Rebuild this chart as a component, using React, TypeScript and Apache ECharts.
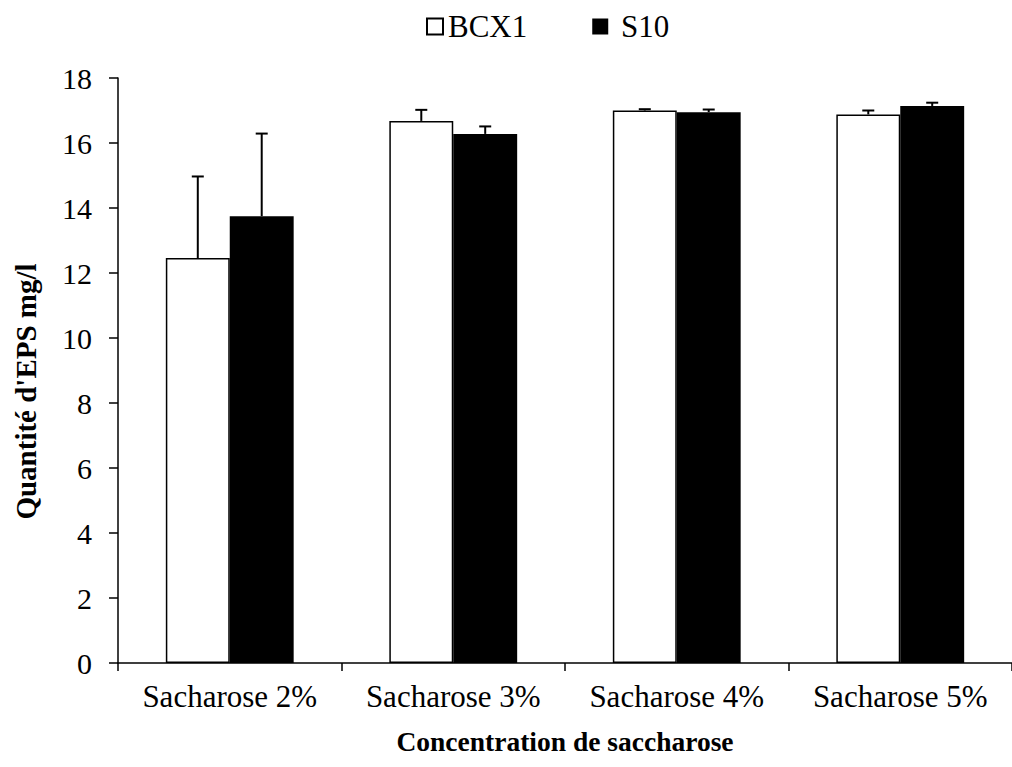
import React, { useEffect, useRef } from 'react';
import * as echarts from 'echarts';

const categories = ['Sacharose 2%', 'Sacharose 3%', 'Sacharose 4%', 'Sacharose 5%'];
const seriesNames = ['BCX1', 'S10'];
const bcx1 = [12.46, 16.68, 17.0, 16.88];
const bcx1Err = [2.51, 0.34, 0.04, 0.12];
const s10 = [13.75, 16.28, 16.95, 17.14];
const s10Err = [2.54, 0.23, 0.08, 0.1];
const yMin = 0;
const yMax = 18;
const yInterval = 2;

const FONT = 'Liberation Serif, Times New Roman, serif';
const BAR_FRAC = 0.286;

function errorSeries(name: string, values: number[], errs: number[], side: number) {
  return {
    type: 'custom',
    name: name + '_err',
    data: values.map((v, i) => [i, v, v + errs[i]]),
    encode: { x: 0, y: [1, 2] },
    z: 10,
    silent: true,
    renderItem: (params: any, api: any) => {
      const i = api.value(0);
      const base = api.coord([i, api.value(1)]);
      const top = api.coord([i, api.value(2)]);
      const cw = api.size([1, 0])[0];
      const x = base[0] + (side * cw * BAR_FRAC) / 2;
      const half = 6;
      return {
        type: 'group',
        children: [
          { type: 'line', shape: { x1: x, y1: base[1], x2: x, y2: top[1] }, style: { stroke: '#000', lineWidth: 2 } },
          { type: 'line', shape: { x1: x - half, y1: top[1], x2: x + half, y2: top[1] }, style: { stroke: '#000', lineWidth: 2 } },
        ],
      };
    },
  };
}

export default function App() {
  const ref = useRef<HTMLDivElement>(null);
  useEffect(() => {
    if (!ref.current) return;
    const chart = echarts.init(ref.current, undefined, { renderer: 'svg' });
    chart.setOption({
      animation: false,
      backgroundColor: '#fff',
      textStyle: { fontFamily: FONT, color: '#000' },
      legend: {
        data: seriesNames,
        left: 421,
        top: 6,
        icon: 'rect',
        itemWidth: 16,
        itemHeight: 16,
        itemGap: 65,
        formatter: (n: string) => (n === 'S10' ? ' S10' : n),
        textStyle: { fontFamily: FONT, fontSize: 31, color: '#000' },
      },
      grid: { left: 118, top: 78, width: 902, height: 585 },
      xAxis: {
        type: 'category',
        data: categories,
        name: 'Concentration de saccharose',
        nameLocation: 'middle',
        nameGap: 64,
        nameTextStyle: { fontFamily: FONT, fontSize: 27.5, fontWeight: 'bold', color: '#000' },
        axisLine: { lineStyle: { color: '#000', width: 1.5 } },
        axisTick: { show: true, length: 8, lineStyle: { color: '#000', width: 1.5 } },
        axisLabel: { fontFamily: FONT, fontSize: 31, color: '#000', margin: 18, interval: 0 },
        splitLine: { show: false },
      },
      yAxis: {
        type: 'value',
        min: yMin,
        max: yMax,
        interval: yInterval,
        name: "Quantité d'EPS mg/l",
        nameLocation: 'middle',
        nameGap: 78,
        nameTextStyle: {
          fontFamily: FONT,
          fontSize: 29,
          fontWeight: 'bold',
          color: '#000',
          padding: [0, 42, 0, 0],
        },
        axisLine: { show: true, lineStyle: { color: '#000', width: 1.5 } },
        axisTick: { show: true, length: 9, lineStyle: { color: '#000', width: 1.5 } },
        axisLabel: { fontFamily: FONT, fontSize: 30, color: '#000', margin: 26 },
        splitLine: { show: false },
      },
      series: [
        {
          type: 'bar',
          name: 'BCX1',
          data: bcx1,
          barWidth: '28.6%',
          barGap: '0%',
          itemStyle: { color: '#fff', borderColor: '#000', borderWidth: 1.5 },
        },
        {
          type: 'bar',
          name: 'S10',
          data: s10,
          barWidth: '28.6%',
          barGap: '0%',
          itemStyle: { color: '#000', borderColor: '#000', borderWidth: 0 },
        },
        errorSeries('BCX1', bcx1, bcx1Err, -1),
        errorSeries('S10', s10, s10Err, 1),
      ],
    });
    return () => chart.dispose();
  }, []);
  return (
    <div
      ref={ref}
      style={{ position: 'fixed', left: 0, top: 0, width: 1012, height: 767, background: '#fff' }}
    />
  );
}
